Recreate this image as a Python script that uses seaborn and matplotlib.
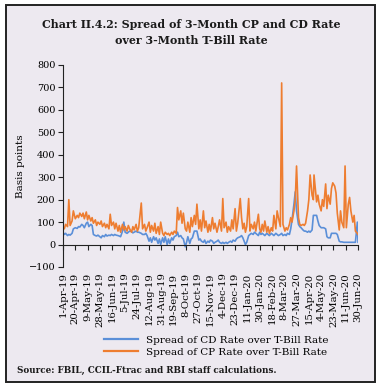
import pandas as pd
import numpy as np
import matplotlib
matplotlib.use("Agg")
import matplotlib.pyplot as plt
from matplotlib.patches import Rectangle
import seaborn as sns

# Spread over 3-month T-Bill rate (basis points)
dates = [
    "2019-04-01", "2019-04-03", "2019-04-05", "2019-04-08", "2019-04-10", "2019-04-12", "2019-04-15",
    "2019-04-17", "2019-04-20", "2019-04-23", "2019-04-25", "2019-04-27", "2019-04-30",
    "2019-05-02", "2019-05-04", "2019-05-07", "2019-05-09", "2019-05-11", "2019-05-14", "2019-05-16",
    "2019-05-18", "2019-05-21", "2019-05-23", "2019-05-25", "2019-05-28", "2019-05-30",
    "2019-06-01", "2019-06-04", "2019-06-06", "2019-06-08", "2019-06-11", "2019-06-13", "2019-06-15",
    "2019-06-18", "2019-06-20", "2019-06-22", "2019-06-25", "2019-06-27", "2019-06-29",
    "2019-07-02", "2019-07-04", "2019-07-06", "2019-07-09", "2019-07-11", "2019-07-13", "2019-07-16",
    "2019-07-18", "2019-07-20", "2019-07-23", "2019-07-25", "2019-07-27", "2019-07-31",
    "2019-08-02", "2019-08-05", "2019-08-07", "2019-08-09", "2019-08-12", "2019-08-14", "2019-08-16",
    "2019-08-19", "2019-08-21", "2019-08-23", "2019-08-26", "2019-08-28", "2019-08-30",
    "2019-09-02", "2019-09-04", "2019-09-06", "2019-09-09", "2019-09-11", "2019-09-13", "2019-09-16",
    "2019-09-18", "2019-09-20", "2019-09-23", "2019-09-25", "2019-09-27", "2019-09-30",
    "2019-10-02", "2019-10-04", "2019-10-07", "2019-10-09", "2019-10-11", "2019-10-14", "2019-10-16",
    "2019-10-18", "2019-10-21", "2019-10-23", "2019-10-25", "2019-10-28", "2019-10-30",
    "2019-11-01", "2019-11-04", "2019-11-06", "2019-11-08", "2019-11-11", "2019-11-13", "2019-11-15",
    "2019-11-18", "2019-11-20", "2019-11-22", "2019-11-25", "2019-11-27", "2019-11-29",
    "2019-12-02", "2019-12-04", "2019-12-06", "2019-12-09", "2019-12-11", "2019-12-13", "2019-12-16",
    "2019-12-18", "2019-12-20", "2019-12-23", "2019-12-25", "2019-12-27", "2019-12-31",
    "2020-01-02", "2020-01-04", "2020-01-06", "2020-01-08", "2020-01-10", "2020-01-13", "2020-01-15",
    "2020-01-17", "2020-01-20", "2020-01-22", "2020-01-24", "2020-01-28", "2020-01-30",
    "2020-02-01", "2020-02-03", "2020-02-05", "2020-02-07", "2020-02-10", "2020-02-12", "2020-02-14",
    "2020-02-17", "2020-02-19", "2020-02-21", "2020-02-24", "2020-02-26", "2020-02-28",
    "2020-03-02", "2020-03-04", "2020-03-06", "2020-03-09", "2020-03-11", "2020-03-13", "2020-03-16",
    "2020-03-18", "2020-03-20", "2020-03-23", "2020-03-25", "2020-03-27", "2020-03-30",
    "2020-04-01", "2020-04-03", "2020-04-06", "2020-04-08", "2020-04-10", "2020-04-13", "2020-04-15",
    "2020-04-17", "2020-04-20", "2020-04-22", "2020-04-23", "2020-04-27", "2020-04-29",
    "2020-05-01", "2020-05-04", "2020-05-06", "2020-05-08", "2020-05-11", "2020-05-13", "2020-05-15",
    "2020-05-18", "2020-05-20", "2020-05-22", "2020-05-25", "2020-05-27", "2020-05-29",
    "2020-06-01", "2020-06-03", "2020-06-05", "2020-06-08", "2020-06-10", "2020-06-12", "2020-06-15",
    "2020-06-17", "2020-06-19", "2020-06-22", "2020-06-24", "2020-06-26", "2020-06-29", "2020-06-30",
]

cp_spread = [
    75, 70, 90, 80, 200, 85, 105, 150, 115, 130, 120, 140, 125,
    140, 115, 145, 110, 130, 105, 120, 95, 110, 85, 100, 90, 105,
    80, 95, 75, 90, 70, 135, 85, 100, 70, 95, 60, 85, 55,
    90, 65, 80, 60, 85, 70, 55, 80, 65, 90, 60, 75, 185,
    70, 90, 60, 75, 100, 55, 85, 60, 95, 50, 80, 45, 100,
    50, 40, 55, 45, 50, 40, 55, 45, 60, 50, 165, 110, 150,
    95, 140, 70, 60, 100, 55, 120, 80, 130, 90, 180, 70, 110,
    60, 150, 75, 105, 55, 90, 60, 120, 70, 95, 55, 80, 110,
    60, 205, 75, 100, 55, 80, 60, 110, 70, 160, 60, 95, 205,
    120, 70, 95, 55, 80, 205, 60, 90, 70, 100, 60, 135, 70,
    55, 90, 60, 105, 55, 80, 50, 75, 60, 130, 70, 150, 120,
    80, 720, 90, 60, 75, 65, 90, 120, 100, 150, 200, 350, 120,
    90, 85, 90, 85, 95, 150, 200, 310, 220, 200, 310, 190, 220,
    180, 150, 200, 170, 270, 160, 220, 180, 250, 275, 260, 230, 140,
    65, 150, 100, 75, 350, 75, 180, 210, 150, 100, 130, 60, 50, 45,
]

cd_spread = [
    55, 45, 50, 40, 45, 42, 50, 70, 75, 72, 80, 78, 90,
    85, 75, 95, 100, 80, 90, 85, 45, 40, 38, 42, 35, 30,
    40, 35, 45, 38, 42, 40, 45, 40, 45, 42, 40, 38, 35,
    60, 100, 55, 50, 55, 60, 58, 52, 55, 60, 55, 55, 50,
    45, 45, 50, 40, 15, 30, 10, 35, 20, 30, 5, 25, 0,
    30, 10, 35, 0, 25, 5, 30, 20, 35, 40, 55, 35, 40,
    30, 25, -10, 10, 35, 5, 25, 30, 60, 60, 60, 20, 25,
    15, 10, 20, 5, 15, 10, 20, 15, 5, 10, 15, 20, 10,
    5, 10, 5, 10, 5, 10, 15, 10, 20, 15, 25, 30, 35,
    40, 30, 15, 0, 10, 40, 45, 50, 45, 55, 50, 40, 55,
    45, 50, 45, 40, 50, 45, 40, 50, 45, 40, 50, 45, 40,
    45, 50, 40, 45, 40, 50, 45, 70, 110, 180, 235, 150, 90,
    80, 75, 65, 60, 60, 55, 60, 55, 65, 130, 130, 130, 105,
    85, 75, 75, 75, 70, 35, 30, 30, 50, 50, 50, 50, 45,
    15, 12, 12, 10, 10, 10, 10, 10, 10, 10, 10, 10, 100, 10,
]

series_names = ["Spread of CD Rate over T-Bill Rate", "Spread of CP Rate over T-Bill Rate"]
series_colors = ["#5B8FD8", "#EE7D30"]

df = pd.DataFrame({"date": pd.to_datetime(dates), series_names[0]: cd_spread, series_names[1]: cp_spread})
long_df = df.melt(id_vars="date", var_name="series", value_name="bps")

bg = "#EDE9F0"
serif = ["DejaVu Serif"]

fig = plt.figure(figsize=(3.82, 3.89), dpi=100, facecolor="white")
fig.patches.append(Rectangle((6 / 382, 7 / 389), 369 / 382, 377 / 389, transform=fig.transFigure,
                             facecolor=bg, edgecolor="#222222", linewidth=1.4, zorder=-10))

ax = fig.add_axes([63 / 382, 1 - 267 / 389, 295 / 382, 202 / 389])
ax.set_facecolor("none")

sns.lineplot(data=long_df, x="date", y="bps", hue="series", hue_order=series_names,
             palette=series_colors, linewidth=1.2, ax=ax)

start, end = pd.Timestamp("2019-04-01"), pd.Timestamp("2020-06-30")
ticks = pd.date_range(start, end, freq="19D")
ax.set_xlim(start, end)
ax.set_ylim(-100, 800)
ax.set_yticks(np.arange(-100, 801, 100))

# axis line drawn at zero, labels kept at the bottom
for s in ["top", "right"]:
    ax.spines[s].set_visible(False)
ax.spines["bottom"].set_position(("data", 0))
ax.spines["left"].set_color("#222222")
ax.spines["bottom"].set_color("#222222")
ax.set_xticks(ticks)
ax.tick_params(axis="x", direction="out", length=3.5, color="#222222", labelbottom=False)
ax.tick_params(axis="y", direction="out", length=3.5, color="#222222", labelsize=7, pad=2)
for lbl in ax.get_yticklabels():
    lbl.set_fontfamily(serif)

sec = ax.secondary_xaxis(location=0)
sec.set_xticks(ticks)
sec.set_xticklabels([f"{d.day}-{d:%b-%y}" for d in ticks], rotation=90, fontsize=7.3, family=serif)
sec.tick_params(length=0, pad=4)
sec.spines["bottom"].set_visible(False)

ax.set_xlabel("")
ax.set_ylabel("Basis points", fontsize=7.5, family=serif, labelpad=3)

leg = ax.legend(loc="upper center", bbox_to_anchor=(0.52, -0.32), frameon=False,
                prop={"family": serif, "size": 7.5}, handlelength=3.2, labelspacing=0.25,
                borderaxespad=0)
for line in leg.get_lines():
    line.set_linewidth(1.6)

fig.text(0.5, 1 - 25 / 389, "Chart II.4.2: Spread of 3-Month CP and CD Rate", ha="center", va="center",
         fontsize=7.9, fontweight="bold", family=serif, color="#1a1a1a")
fig.text(0.5, 1 - 41 / 389, "over 3-Month T-Bill Rate", ha="center", va="center",
         fontsize=7.9, fontweight="bold", family=serif, color="#1a1a1a")
fig.text(17 / 382, 1 - 370 / 389, "Source: FBIL, CCIL-Ftrac and RBI staff calculations.", ha="left",
         va="center", fontsize=6.3, fontweight="bold", family=serif, color="#1a1a1a")

fig.savefig("out.png", dpi=100, facecolor="white")
